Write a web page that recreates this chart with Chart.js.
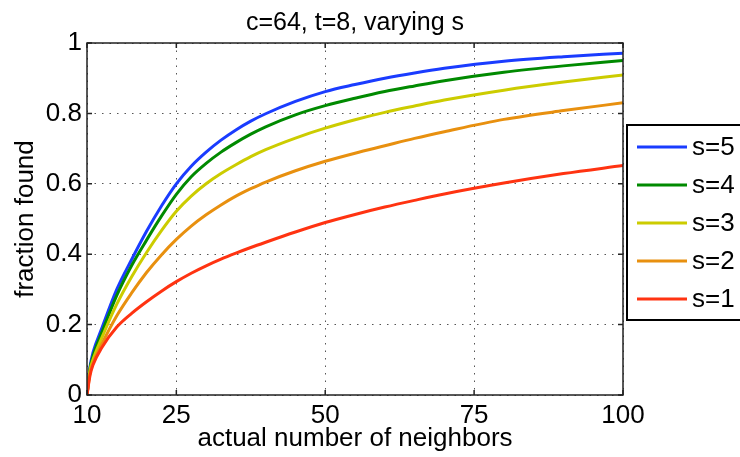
<!DOCTYPE html>
<html>
<head>
<meta charset="utf-8">
<script src="https://cdn.jsdelivr.net/npm/chart.js@4"></script>
<style>
    html, body { margin: 0; padding: 0; background: #fff; }
    #wrap { width: 740px; height: 457px; }
</style>
</head>
<body>
<div id="wrap"><canvas id="myChart" width="740" height="457"></canvas></div>
<script>
// actual number of neighbors (x)
const neighbors = [10, 10.5, 11, 12.5, 15, 17.5, 20, 22.5, 25, 27.5, 30, 32.5, 35, 37.5, 40, 45, 50,
    55, 60, 65, 70, 80, 90, 100];

// fraction found for each s
const s1 = [0, 0.055, 0.085, 0.135, 0.193, 0.232, 0.265, 0.295, 0.322, 0.346, 0.367, 0.386, 0.403, 0.419, 0.434,
    0.463, 0.49, 0.513, 0.534, 0.553, 0.571, 0.602, 0.629, 0.652];
const s2 = [0, 0.062, 0.09, 0.145, 0.225, 0.29, 0.348, 0.398, 0.442, 0.48, 0.512, 0.54, 0.565, 0.586, 0.605,
    0.637, 0.664, 0.687, 0.708, 0.729, 0.748, 0.783, 0.808, 0.83];
const s3 = [0, 0.07, 0.1, 0.163, 0.258, 0.336, 0.405, 0.467, 0.522, 0.565, 0.6, 0.629, 0.654, 0.677, 0.697,
    0.73, 0.758, 0.782, 0.803, 0.821, 0.838, 0.866, 0.889, 0.909];
const s4 = [0, 0.075, 0.11, 0.178, 0.283, 0.368, 0.44, 0.508, 0.57, 0.62, 0.658, 0.69, 0.717, 0.741, 0.762,
    0.796, 0.822, 0.843, 0.862, 0.878, 0.893, 0.917, 0.935, 0.95];
const s5 = [0, 0.08, 0.12, 0.19, 0.3, 0.385, 0.465, 0.537, 0.6, 0.65, 0.69, 0.724, 0.753, 0.778, 0.799,
    0.834, 0.862, 0.882, 0.9, 0.915, 0.928, 0.948, 0.961, 0.971];

const seriesLabels = ['s=1', 's=2', 's=3', 's=4', 's=5'];
const seriesColors = ['#ff3311', '#e8900f', '#cccc00', '#008a00', '#1a3cff'];
const xTicks = [10, 25, 50, 75, 100];
const yTicks = [0, 0.2, 0.4, 0.6, 0.8, 1];

const FONT = "'Liberation Sans', Arial, Helvetica, sans-serif";
Chart.defaults.font.family = FONT;
Chart.defaults.color = '#000';

// box round the axes, with short ticks pointing inwards
const axesBox = {
    id: 'axesBox',
    afterDatasetsDraw(chart) {
        const { ctx, chartArea: a, scales: { x, y } } = chart;
        ctx.save();
        ctx.strokeStyle = '#222';
        ctx.lineWidth = 1.5;
        ctx.beginPath();
        xTicks.forEach(v => {
            const px = x.getPixelForValue(v);
            ctx.moveTo(px, a.bottom); ctx.lineTo(px, a.bottom - 5);
            ctx.moveTo(px, a.top); ctx.lineTo(px, a.top + 5);
        });
        yTicks.forEach(v => {
            const py = y.getPixelForValue(v);
            ctx.moveTo(a.left, py); ctx.lineTo(a.left + 5, py);
            ctx.moveTo(a.right, py); ctx.lineTo(a.right - 5, py);
        });
        ctx.stroke();
        ctx.strokeRect(a.left, a.top, a.right - a.left, a.bottom - a.top);
        ctx.restore();
    }
};

// legend outside on the right, s=5 on top
const boxLegend = {
    id: 'boxLegend',
    afterDraw(chart) {
        const { ctx, chartArea: a } = chart;
        const sets = chart.data.datasets.slice().reverse();
        const left = a.right + 4, top = a.top + 82, rowH = 38;
        ctx.save();
        ctx.fillStyle = '#fff';
        ctx.fillRect(left, top, 130, 195);
        ctx.strokeStyle = '#000';
        ctx.lineWidth = 2;
        ctx.strokeRect(left, top, 130, 195);
        ctx.font = '26px ' + FONT;
        ctx.textBaseline = 'middle';
        ctx.textAlign = 'left';
        sets.forEach((ds, i) => {
            const cy = top + 22 + i * rowH;
            ctx.strokeStyle = ds.borderColor;
            ctx.lineWidth = 3;
            ctx.beginPath();
            ctx.moveTo(left + 10, cy);
            ctx.lineTo(left + 60, cy);
            ctx.stroke();
            ctx.fillStyle = '#000';
            ctx.fillText(ds.label, left + 65, cy + 1);
        });
        ctx.restore();
    }
};

const series = [s1, s2, s3, s4, s5];

new Chart(document.getElementById('myChart'), {
    type: 'line',
    data: {
        datasets: series.map((vals, i) => ({
            label: seriesLabels[i],
            data: neighbors.map((n, k) => ({ x: n, y: vals[k] })),
            borderColor: seriesColors[i],
            backgroundColor: seriesColors[i],
            borderWidth: 3,
            pointRadius: 0,
            cubicInterpolationMode: 'monotone',
            fill: false,
        }))
    },
    options: {
        responsive: false,
        animation: false,
        devicePixelRatio: 1,
        layout: { padding: { right: 117, left: 0, bottom: 0, top: 0 } },
        scales: {
            x: {
                type: 'linear',
                min: 10,
                max: 100,
                afterBuildTicks: s => { s.ticks = xTicks.map(v => ({ value: v })); },
                afterFit: s => { s.height = 62; },
                ticks: { font: { size: 26 }, padding: 5, maxRotation: 0, callback: v => String(v) },
                grid: { color: '#555', lineWidth: 1, drawTicks: false },
                border: { display: false, dash: [1.5, 6] },
                title: {
                    display: true,
                    text: 'actual number of neighbors',
                    font: { size: 26 },
                    padding: { top: 0, bottom: 3 }
                }
            },
            y: {
                min: 0,
                max: 1,
                afterBuildTicks: s => { s.ticks = yTicks.map(v => ({ value: v })); },
                afterFit: s => { s.width = 87; },
                ticks: { font: { size: 26 }, padding: 5, callback: v => String(+v.toFixed(1)) },
                grid: { color: '#555', lineWidth: 1, drawTicks: false },
                border: { display: false, dash: [1.5, 6] },
                title: {
                    display: true,
                    text: 'fraction found',
                    font: { size: 26 },
                    padding: { top: 10, bottom: 0 }
                }
            }
        },
        plugins: {
            legend: { display: false },
            tooltip: { enabled: false },
            title: {
                display: true,
                text: 'c=64, t=8, varying s',
                fullSize: false,
                font: { size: 25, weight: 'normal' },
                padding: { top: 8, bottom: 5 }
            }
        }
    },
    plugins: [axesBox, boxLegend]
});
</script>
</body>
</html>
